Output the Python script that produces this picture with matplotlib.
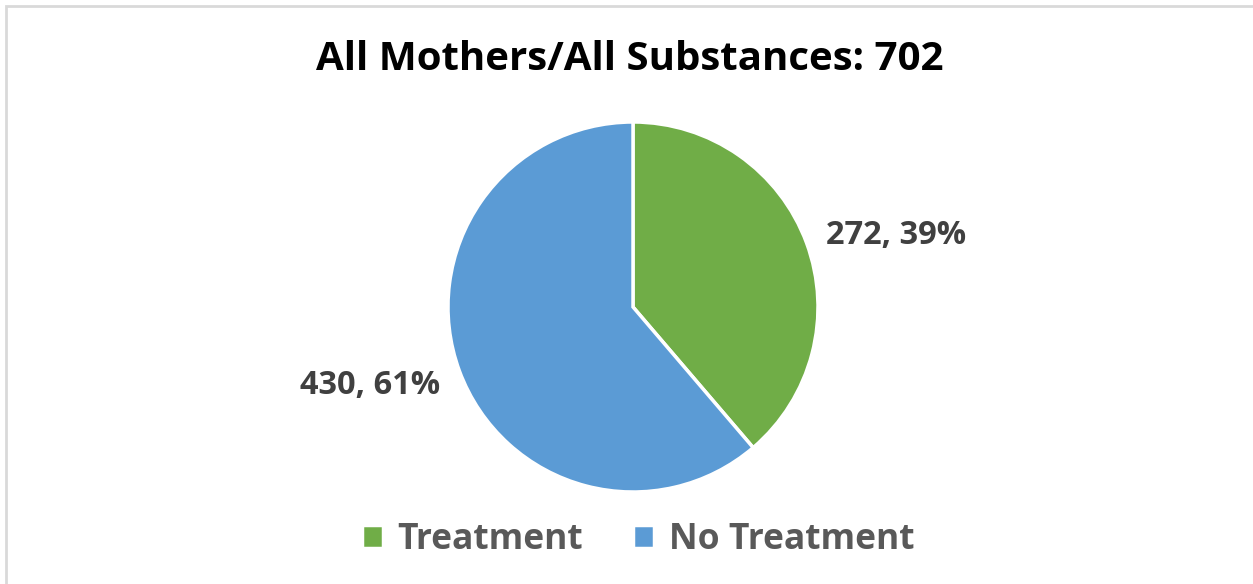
import matplotlib.pyplot as plt
from matplotlib.patches import Rectangle

# Data
categories = ['Treatment', 'No Treatment']
counts = [272, 430]
colors = ['#70AD47', '#5B9BD5']
title = 'All Mothers/All Substances: 702'

W, H = 1253, 584
fig = plt.figure(figsize=(W / 100, H / 100), dpi=100)
ax = fig.add_axes([0, 0, 1, 1])

# chart border
fig.patches.append(Rectangle((6 / W, -0.1), 1.2, (H - 6) / H + 0.1, transform=fig.transFigure,
                             fill=False, edgecolor='#D9D9D9', linewidth=2))

wedges, _ = ax.pie(counts, colors=colors, startangle=90, counterclock=False,
                   center=(633, H - 307), radius=185, frame=True,
                   wedgeprops=dict(edgecolor='white', linewidth=2.5))
ax.set_xlim(0, W)
ax.set_ylim(0, H)
ax.set_aspect('equal')
ax.axis('off')

total = sum(counts)
label_pos = [(896, H - 235), (370, H - 385)]
for n, (x, y) in zip(counts, label_pos):
    ax.text(x, y, f'{n}, {round(100 * n / total)}%', ha='center', va='center',
            fontsize=23.5, fontweight='bold', color='#404040', family='Open Sans')

ax.text(630, H - 60, title, ha='center', va='center', fontsize=29,
        fontweight='bold', color='black', family='Open Sans')

leg = ax.legend(wedges, categories, ncol=2, loc='center',
                bbox_to_anchor=(638 / W, (H - 540) / H), bbox_transform=fig.transFigure,
                frameon=False, handlelength=0.6, handleheight=0.6, handletextpad=0.42,
                columnspacing=1.4, prop=dict(family='Open Sans', weight='bold', size=25.5))
for t in leg.get_texts():
    t.set_color('#595959')

fig.savefig('out.png', dpi=100)
